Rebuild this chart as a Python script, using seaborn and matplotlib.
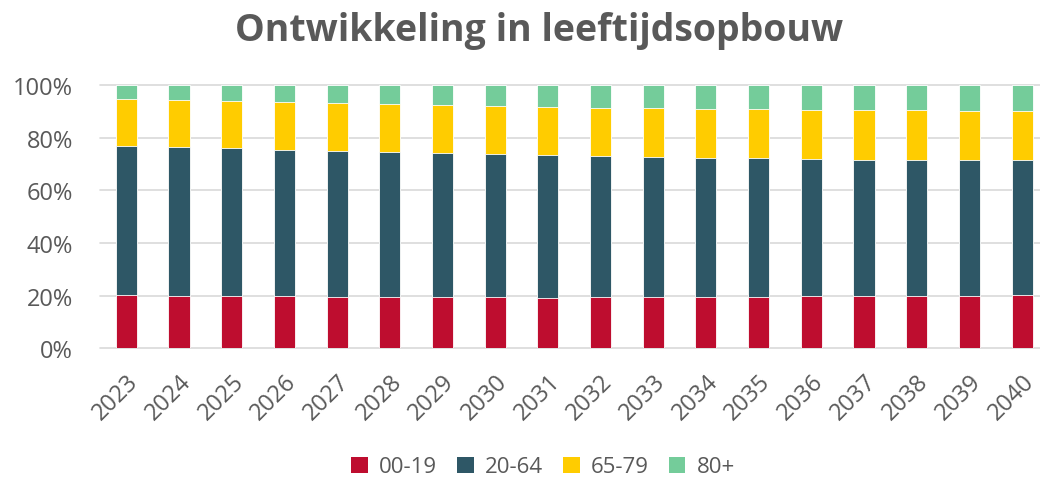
import matplotlib
matplotlib.use("Agg")
import matplotlib.pyplot as plt
import seaborn as sns
import numpy as np
import pandas as pd
from matplotlib.patches import Patch

years = [str(y) for y in range(2023, 2041)]
age_0_19 = [20.3, 20.0, 19.8, 19.7, 19.6, 19.6, 19.3, 19.3, 19.1, 19.3, 19.3, 19.6, 19.6, 19.7, 19.7, 19.7, 20.0, 20.2]
age_20_64 = [56.5, 56.3, 56.1, 55.7, 55.4, 55.1, 55.0, 54.5, 54.3, 53.8, 53.5, 52.8, 52.5, 52.2, 51.9, 51.8, 51.4, 51.3]
age_65_79 = [17.8, 18.0, 18.1, 18.3, 18.2, 18.1, 18.0, 18.1, 18.2, 18.2, 18.3, 18.6, 18.8, 18.7, 18.9, 18.9, 18.7, 18.6]
age_80p = [5.4, 5.7, 6.0, 6.3, 6.8, 7.2, 7.7, 8.1, 8.4, 8.7, 8.9, 9.0, 9.1, 9.4, 9.5, 9.6, 9.9, 9.9]
series_names = ["00-19", "20-64", "65-79", "80+"]
colors = ["#BE0D2F", "#2E5766", "#FFCC00", "#74CC9A"]
y_ticks = [0, 20, 40, 60, 80, 100]
title = "Ontwikkeling in leeftijdsopbouw"

sns.set_theme(style="white")
plt.rcParams["font.family"] = ["Open Sans", "DejaVu Sans"]
text_color = "#595959"

fig = plt.figure(figsize=(10.4, 4.81), dpi=100)
ax = fig.add_axes([100 / 1040, 131.7 / 481, 940 / 1040, 263.3 / 481])

series = [age_0_19, age_20_64, age_65_79, age_80p]
arr = np.array(series)
totals = arr.sum(axis=0)
arr = arr / totals * 100
cum = np.cumsum(arr, axis=0)

df = pd.DataFrame({"year": years})
for i in range(len(series) - 1, -1, -1):
    df["v"] = cum[i]
    sns.barplot(data=df, x="year", y="v", color=colors[i], width=0.4, ax=ax,
                saturation=1, edgecolor="white", linewidth=0.6, zorder=3)

ax.set_ylim(0, 100)
ax.set_xlim(-0.5, 17.34)
ax.set_yticks(y_ticks)
ax.set_yticklabels([f"{t}%" for t in y_ticks], fontsize=17, color=text_color)
ax.yaxis.grid(True, color="#D9D9D9", linewidth=1.2, zorder=0)
for g in ax.get_ygridlines():
    g.set_clip_on(False)
ax.set_axisbelow(True)
for s in ax.spines.values():
    s.set_visible(False)
ax.tick_params(axis="y", length=0, pad=19.5)
ax.tick_params(axis="x", length=0, pad=15)
ax.set_xlabel("")
ax.set_ylabel("")
for lbl in ax.get_xticklabels():
    lbl.set_rotation(45)
    lbl.set_ha("right")
    lbl.set_rotation_mode("anchor")
    lbl.set_fontsize(17)
    lbl.set_color(text_color)

fig.text(539 / 1040, 1 - 41 / 481, title, ha="center", va="baseline",
         fontsize=27, fontweight="bold", color=text_color)

handles = [Patch(facecolor=c, edgecolor="none") for c in colors]
leg = fig.legend(handles, series_names, loc="center", ncol=4,
                 bbox_to_anchor=(543 / 1040, 1 - 468 / 481), frameon=False,
                 fontsize=16, handlelength=0.75, handleheight=0.75,
                 handletextpad=0.5, columnspacing=0.9)
for t in leg.get_texts():
    t.set_color(text_color)

fig.savefig("out.png", dpi=100)
